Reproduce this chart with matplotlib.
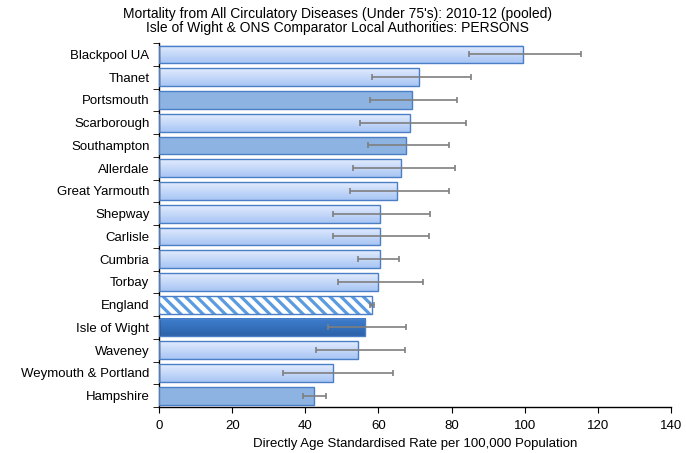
import numpy as np
import matplotlib
matplotlib.use("Agg")
import matplotlib.pyplot as plt
from matplotlib.colors import LinearSegmentedColormap

plt.rcParams['font.family'] = ['Liberation Sans', 'DejaVu Sans']

areas = ["Blackpool UA", "Thanet", "Portsmouth", "Scarborough", "Southampton",
         "Allerdale", "Great Yarmouth", "Shepway", "Carlisle", "Cumbria",
         "Torbay", "England", "Isle of Wight", "Waveney",
         "Weymouth & Portland", "Hampshire"]
rates = [99.5, 71.2, 69.3, 68.7, 67.6, 66.2, 65.2, 60.3, 60.3, 60.3,
         59.9, 58.2, 56.4, 54.4, 47.6, 42.4]
lower = [84.8, 58.2, 57.7, 54.9, 57.0, 53.0, 52.2, 47.6, 47.6, 54.3,
         48.8, 57.6, 46.1, 42.9, 33.9, 39.3]
upper = [115.5, 85.4, 81.6, 83.9, 79.4, 80.8, 79.2, 74.1, 73.8, 65.7,
         72.2, 58.8, 67.6, 67.3, 63.9, 45.7]
# bar styles: 'light' comparator, 'hants' Hampshire-area, 'iow', 'eng'
kinds = ["light", "light", "hants", "light", "hants", "light", "light", "light",
         "light", "light", "light", "eng", "iow", "light", "light", "hants"]

light_cm = LinearSegmentedColormap.from_list("light", ["#e2ecfd", "#a8c5f4"])
iow_cm = LinearSegmentedColormap.from_list("iow", ["#3d7fd0", "#2d62a8"])
grad = np.linspace(0, 1, 64).reshape(-1, 1)

plt.rcParams['hatch.color'] = "#5b9be0"
plt.rcParams['hatch.linewidth'] = 2.3

fig = plt.figure(figsize=(6.86, 4.53), dpi=100)
ax = fig.add_axes([0.232, 0.1015, 0.746, 0.8035])

y = np.arange(len(areas))
h = 0.78
for i, (name, v, k) in enumerate(zip(areas, rates, kinds)):
    if k == "light" or k == "iow":
        cm = light_cm if k == "light" else iow_cm
        ax.imshow(grad, cmap=cm, aspect="auto", interpolation="bilinear",
                  extent=(0, v, i + h / 2, i - h / 2), zorder=2)
        ax.barh(i, v, height=h, color="none", edgecolor="#4a7ec6", linewidth=1, zorder=3)
    elif k == "hants":
        ax.barh(i, v, height=h, color="#8db3e2", edgecolor="#4a7ec6", linewidth=1, zorder=3)
    else:
        ax.barh(i, v, height=h, color="white", edgecolor="#5b9be0", hatch="\\" * 3,
                linewidth=0, zorder=3)
        ax.barh(i, v, height=h, color="none", edgecolor="#4a7ec6", linewidth=1, zorder=3)

rates_a = np.array(rates)
err = [rates_a - np.array(lower), np.array(upper) - rates_a]
ax.errorbar(rates, y, xerr=err, fmt="none", ecolor="#7f7f7f", elinewidth=1.2,
            capsize=2.5, capthick=1.2, zorder=4)

ax.set_xlim(0, 140)
ax.set_ylim(len(areas) - 0.5, -0.5)
ax.set_xticks(range(0, 141, 20))
ax.set_yticks(y)
ax.set_yticklabels(areas, fontsize=9.5)
ax.set_yticks(np.arange(-0.5, len(areas), 1), minor=True)
ax.tick_params(axis="y", which="major", length=0, pad=7)
ax.tick_params(axis="y", which="minor", length=4, direction="out")
ax.tick_params(axis="x", length=4, direction="out", labelsize=9.5, pad=5)
for s in ["top", "right"]:
    ax.spines[s].set_visible(False)
ax.spines["left"].set_linewidth(1)
ax.spines["bottom"].set_linewidth(1)

ax.set_xlabel("Directly Age Standardised Rate per 100,000 Population", fontsize=9.5, labelpad=5)
fig.suptitle("Mortality from All Circulatory Diseases (Under 75's): 2010-12 (pooled)\n"
             "Isle of Wight & ONS Comparator Local Authorities: PERSONS",
             fontsize=10, y=0.985, x=0.492, linespacing=1.05)

fig.savefig("out.png", dpi=100)
